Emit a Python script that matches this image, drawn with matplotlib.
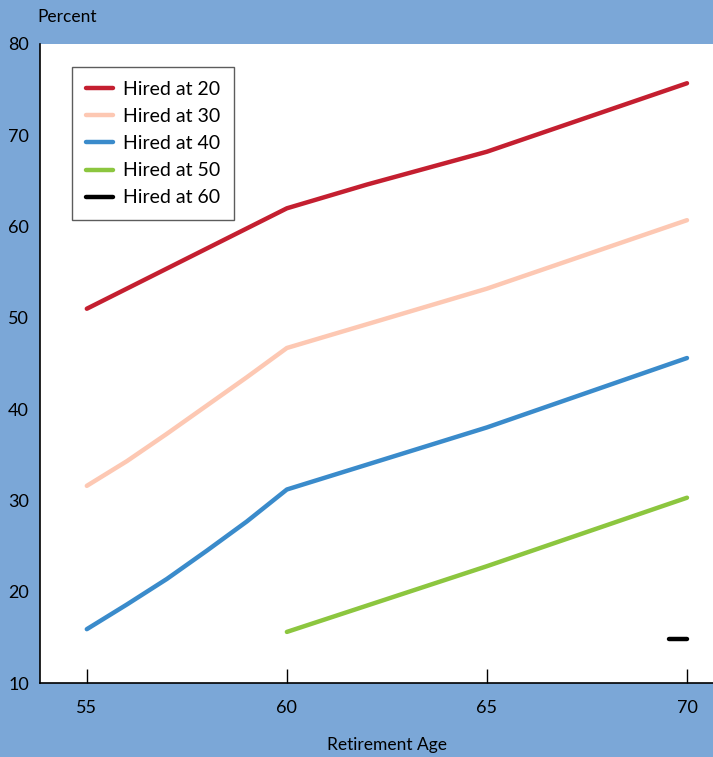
import matplotlib
matplotlib.use("Agg")
import matplotlib.pyplot as plt

plt.rcParams['font.family'] = ['Lato', 'DejaVu Sans']

# data (percent, by retirement age)
ages_20 = [55, 56, 57, 58, 59, 60, 61, 62, 63, 64, 65, 66, 67, 68, 69, 70]
hired_20 = [51.0, 53.2, 55.4, 57.6, 59.8, 62.0, 63.3, 64.6, 65.8, 67.0, 68.2, 69.7, 71.2, 72.7, 74.2, 75.7]
ages_30 = [55, 56, 57, 58, 59, 60, 65, 70]
hired_30 = [31.6, 34.3, 37.3, 40.4, 43.5, 46.7, 53.2, 60.7]
ages_40 = [55, 56, 57, 58, 59, 60, 65, 70]
hired_40 = [15.9, 18.6, 21.4, 24.5, 27.7, 31.2, 38.0, 45.6]
ages_50 = [60, 65, 70]
hired_50 = [15.6, 22.8, 30.3]
ages_60 = [69.55, 70]
hired_60 = [14.8, 14.8]

labels = ['Hired at 20', 'Hired at 30', 'Hired at 40', 'Hired at 50', 'Hired at 60']
colors = ['#c41f30', '#fdc8b3', '#3a8bcb', '#8cc63f', '#000000']
xticks = [55, 60, 65, 70]
yticks = [10, 20, 30, 40, 50, 60, 70, 80]

bg = '#7ba7d7'
fig = plt.figure(figsize=(7.13, 7.57), dpi=100, facecolor=bg)
ax = fig.add_axes([0.0561, 0.0977, 0.9439, 0.8442])
ax.set_facecolor('white')

series = [(ages_20, hired_20), (ages_30, hired_30), (ages_40, hired_40),
          (ages_50, hired_50), (ages_60, hired_60)]
for (x, y), lab, c in zip(series, labels, colors):
    ax.plot(x, y, color=c, lw=3.2, label=lab, solid_capstyle='round', solid_joinstyle='round')

ax.set_xlim(53.83, 70.65)
ax.set_ylim(10, 80)
ax.set_xticks(xticks)
ax.set_yticks(yticks)
ax.spines['top'].set_visible(False)
ax.spines['right'].set_visible(False)
ax.spines['left'].set_linewidth(1.2)
ax.spines['bottom'].set_linewidth(1.2)
ax.tick_params(axis='x', direction='in', length=10, width=1, pad=12, labelsize=13)
ax.tick_params(axis='y', length=0, pad=8, labelsize=13)

fig.text(0.052, 0.977, 'Percent', fontsize=12.5, ha='left', va='center')
fig.text(0.543, 0.016, 'Retirement Age', fontsize=12.5, ha='center', va='center')

leg = ax.legend(loc='upper left', bbox_to_anchor=(0.0475, 0.964), borderaxespad=0,
                fontsize=14, frameon=True, fancybox=False, edgecolor='#333333',
                handlelength=1.4, handletextpad=0.5, labelspacing=0.52, borderpad=0.72)
leg.get_frame().set_linewidth(1.0)

fig.savefig('out.png', dpi=100, facecolor=bg)
